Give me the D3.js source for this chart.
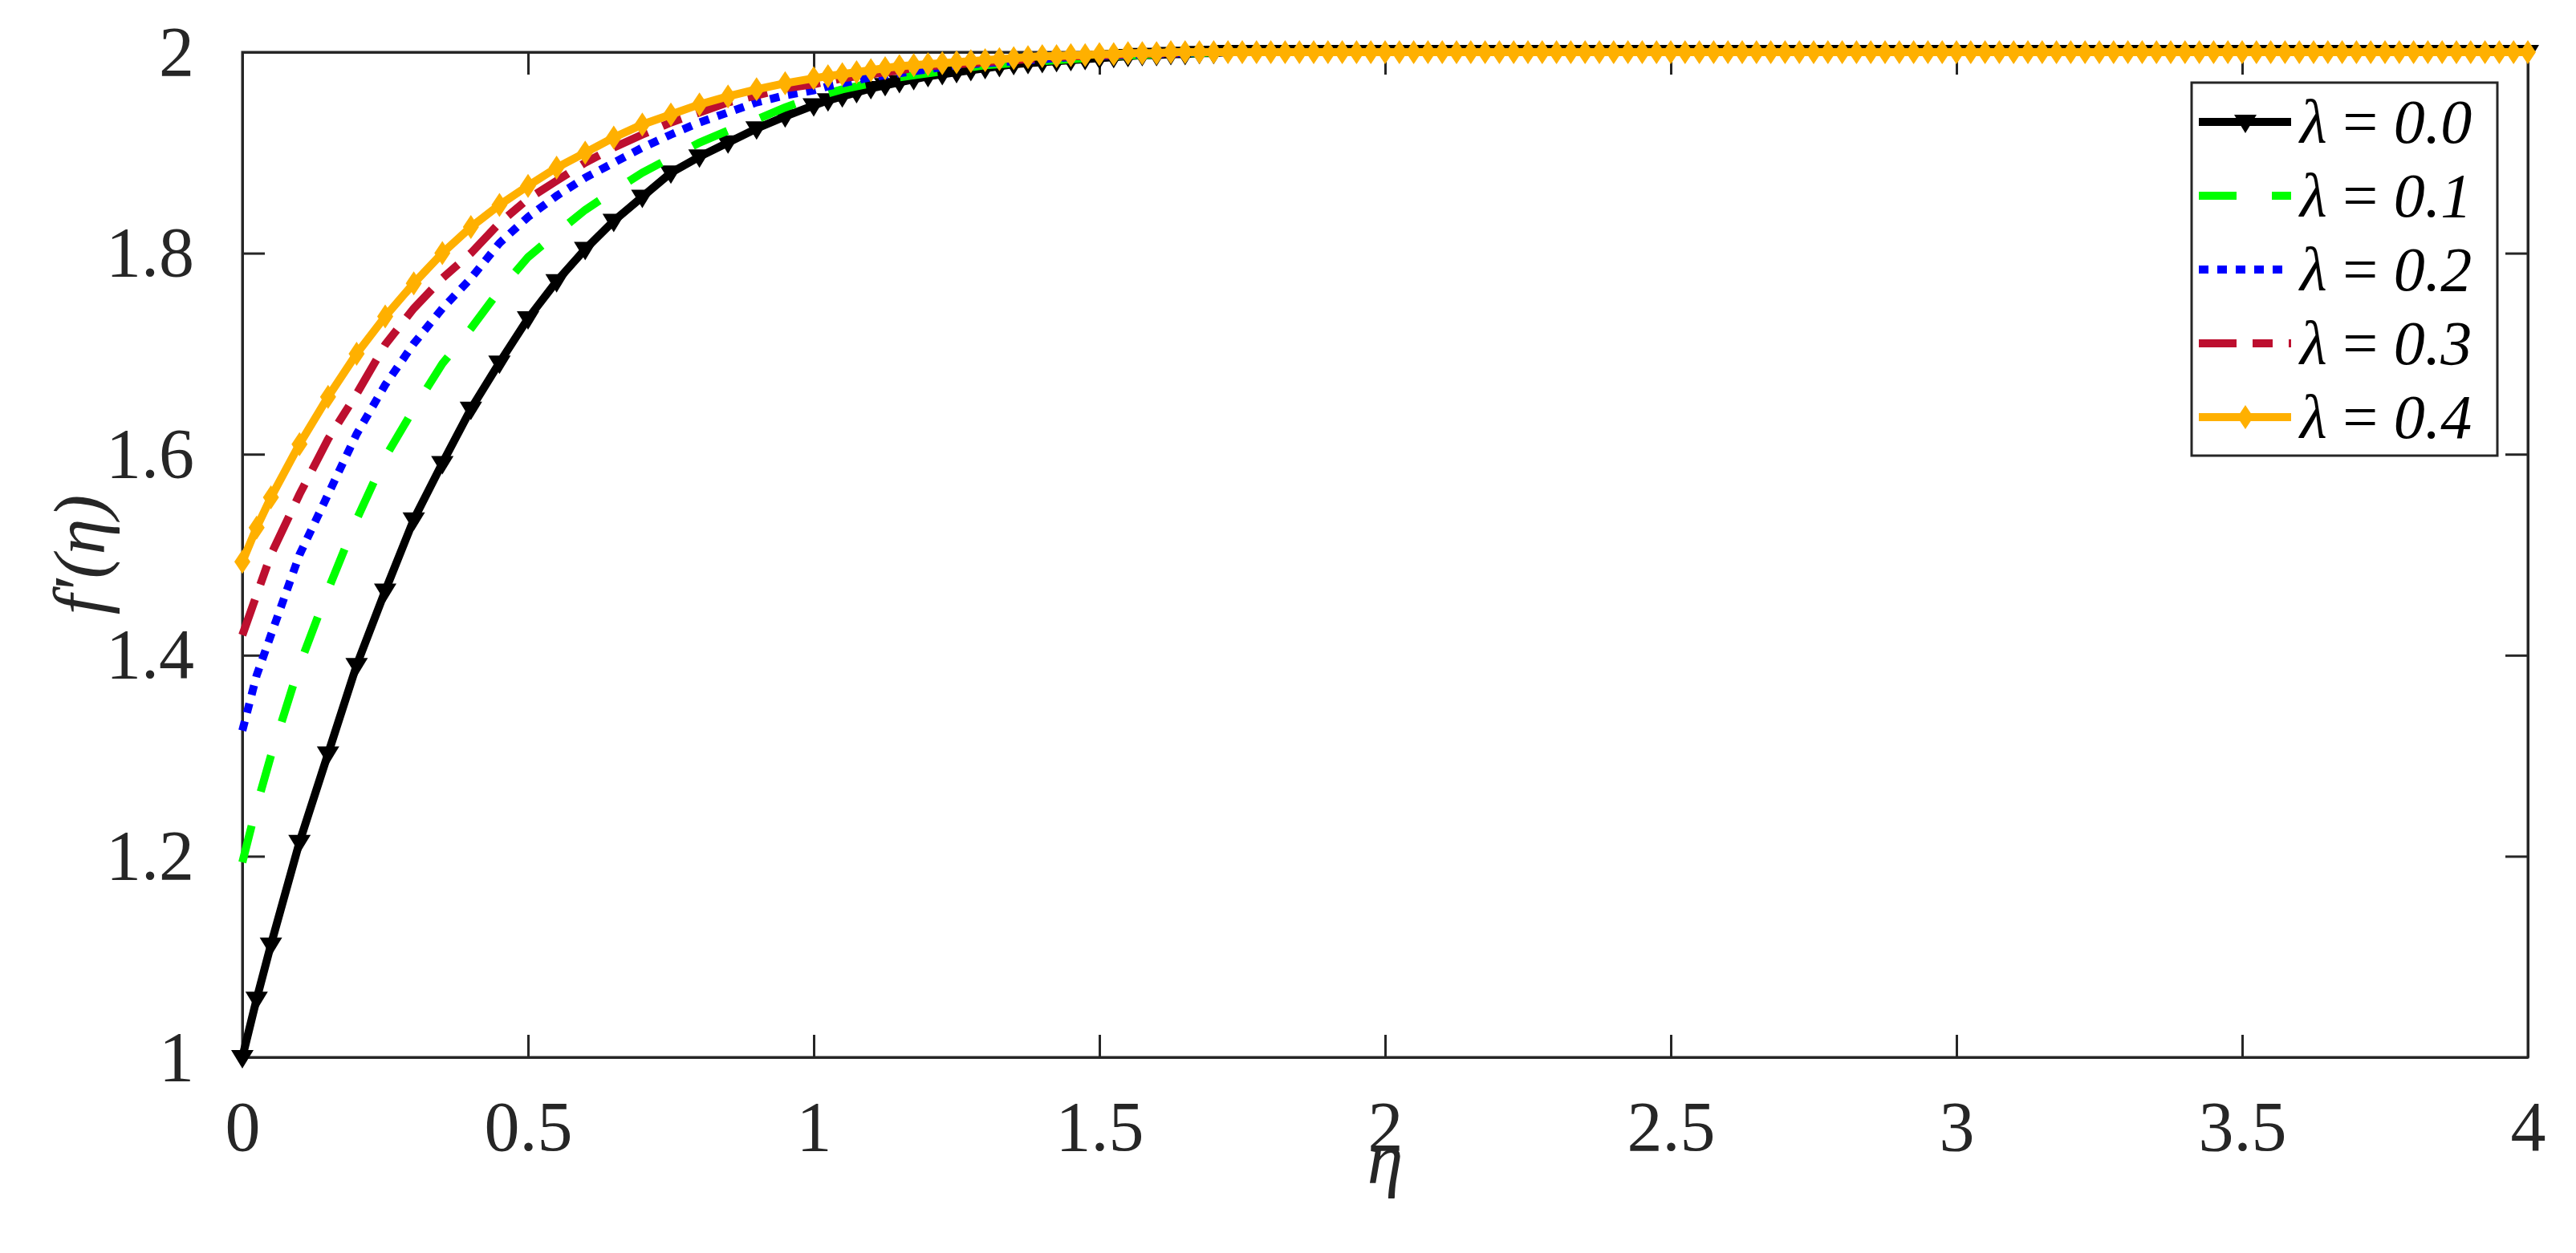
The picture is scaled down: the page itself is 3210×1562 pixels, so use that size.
<!DOCTYPE html>
<html>
<head>
<meta charset="utf-8">
<script src="https://cdn.jsdelivr.net/npm/d3@7"></script>
<style>
  body { margin: 0; background: #fff; }
  text { font-family: "Liberation Serif", "DejaVu Serif", serif; }
</style>
</head>
<body>
<svg id="chart" width="3210" height="1562"></svg>
<script>
// eta mesh: fine near 0, 0.025 steps after 1
const etaHead = [0, 0.025, 0.05, 0.1, 0.15, 0.2, 0.25, 0.3, 0.35, 0.4, 0.45, 0.5, 0.55, 0.6, 0.65, 0.7, 0.75, 0.8, 0.85, 0.9, 0.95, 1.0,
  1.025, 1.05, 1.075, 1.1, 1.125, 1.15, 1.175, 1.2, 1.225, 1.25, 1.275, 1.3, 1.325, 1.35, 1.375, 1.4, 1.425, 1.45, 1.475, 1.5,
  1.525, 1.55, 1.575, 1.6, 1.625, 1.65, 1.675, 1.7];
const etaTail = d3.range(1.725, 4.0001, 0.025);
const eta = etaHead.concat(etaTail);
const plateau = etaTail.map(() => 2.0); // all curves sit on f' = 2 there

const lam00 = [1.000, 1.058, 1.112, 1.214, 1.302, 1.390, 1.464, 1.535, 1.591, 1.645, 1.691, 1.735, 1.772, 1.804, 1.832, 1.856, 1.880, 1.896, 1.910, 1.924, 1.936, 1.947,
  1.952, 1.956, 1.960, 1.964, 1.967, 1.970, 1.973, 1.976, 1.978, 1.980, 1.982, 1.984, 1.986, 1.988, 1.989, 1.990, 1.991, 1.992, 1.993, 1.994,
  1.995, 1.996, 1.997, 1.997, 1.998, 1.998, 1.999, 1.999].concat(plateau);
const lam01 = [1.194, 1.250, 1.300, 1.390, 1.465, 1.535, 1.597, 1.645, 1.690, 1.725, 1.763, 1.796, 1.820, 1.843, 1.862, 1.880, 1.895, 1.910, 1.922, 1.933, 1.945, 1.955,
  1.959, 1.963, 1.966, 1.969, 1.972, 1.975, 1.977, 1.979, 1.981, 1.983, 1.985, 1.987, 1.988, 1.989, 1.990, 1.991, 1.992, 1.993, 1.994, 1.995,
  1.996, 1.997, 1.997, 1.998, 1.998, 1.999, 1.999, 2.000].concat(plateau);
const lam02 = [1.325, 1.380, 1.420, 1.500, 1.560, 1.620, 1.669, 1.710, 1.745, 1.775, 1.810, 1.836, 1.857, 1.875, 1.890, 1.905, 1.918, 1.930, 1.940, 1.950, 1.957, 1.962,
  1.966, 1.969, 1.972, 1.975, 1.977, 1.979, 1.981, 1.983, 1.985, 1.987, 1.988, 1.989, 1.990, 1.991, 1.992, 1.993, 1.994, 1.995, 1.996, 1.996,
  1.997, 1.997, 1.998, 1.998, 1.999, 1.999, 2.000, 2.000].concat(plateau);
const lam03 = [1.420, 1.460, 1.500, 1.560, 1.615, 1.660, 1.709, 1.745, 1.775, 1.800, 1.830, 1.854, 1.872, 1.890, 1.905, 1.918, 1.930, 1.940, 1.950, 1.957, 1.964, 1.968,
  1.971, 1.974, 1.976, 1.978, 1.980, 1.982, 1.984, 1.986, 1.987, 1.988, 1.989, 1.990, 1.991, 1.992, 1.993, 1.994, 1.995, 1.996, 1.996, 1.997,
  1.997, 1.998, 1.998, 1.999, 1.999, 1.999, 2.000, 2.000].concat(plateau);
const lam04 = [1.493, 1.527, 1.557, 1.610, 1.657, 1.700, 1.737, 1.770, 1.800, 1.826, 1.848, 1.867, 1.885, 1.900, 1.915, 1.928, 1.938, 1.948, 1.956, 1.963, 1.969, 1.974,
  1.976, 1.978, 1.980, 1.982, 1.984, 1.986, 1.987, 1.988, 1.989, 1.990, 1.991, 1.992, 1.993, 1.994, 1.995, 1.996, 1.996, 1.997, 1.997, 1.998,
  1.998, 1.999, 1.999, 1.999, 2.000, 2.000, 2.000, 2.000].concat(plateau);

const labels = ['0.0', '0.1', '0.2', '0.3', '0.4'];
const xTicks = [0, 0.5, 1, 1.5, 2, 2.5, 3, 3.5, 4];
const yTicks = [1, 1.2, 1.4, 1.6, 1.8, 2];

const series = [
  { y: lam00, color: '#000000', dash: null, marker: 'tri' },
  { y: lam01, color: '#00ff00', dash: '47,44', marker: null },
  { y: lam02, color: '#0000ff', dash: '12,11', marker: null },
  { y: lam03, color: '#bd0f2f', dash: '47,20,25,20', marker: null },
  { y: lam04, color: '#ffb000', dash: null, marker: 'dia' }
];

const pLeft = 302, pRight = 3150, pTop = 65, pBottom = 1318;
const svg = d3.select('#chart');

const x = d3.scaleLinear().domain([0, 4]).range([pLeft, pRight]);
const y = d3.scaleLinear().domain([1, 2]).range([pBottom, pTop]);

// axes with inward ticks, mirrored on top/right
const tl = 28;
svg.append('g').attr('transform', 'translate(0,' + pBottom + ')')
  .call(d3.axisBottom(x).tickValues(xTicks).tickSizeInner(-tl).tickSizeOuter(0).tickPadding(tl + 26).tickFormat(d3.format('')));
svg.append('g').attr('transform', 'translate(0,' + pTop + ')')
  .call(d3.axisTop(x).tickValues(xTicks).tickSizeInner(-tl).tickSizeOuter(0).tickFormat(''));
svg.append('g').attr('transform', 'translate(' + pLeft + ',0)')
  .call(d3.axisLeft(y).tickValues(yTicks).tickSizeInner(-tl).tickSizeOuter(0).tickPadding(tl + 32).tickFormat(d3.format('')));
svg.append('g').attr('transform', 'translate(' + pRight + ',0)')
  .call(d3.axisRight(y).tickValues(yTicks).tickSizeInner(-tl).tickSizeOuter(0).tickFormat(''));
svg.selectAll('.domain, .tick line').attr('stroke', '#262626').attr('stroke-width', 3);
svg.selectAll('.tick text').attr('font-size', 88).attr('fill', '#262626')
  .attr('font-family', '"Liberation Serif", serif');

svg.append('rect').attr('x', pLeft).attr('y', pTop).attr('width', pRight - pLeft).attr('height', pBottom - pTop)
  .attr('fill', 'none').attr('stroke', '#262626').attr('stroke-width', 3);

const line = d3.line().x(d => x(d[0])).y(d => y(d[1]));
const tri = 'M-14,-9L14,-9L0,14Z';
const dia = 'M0,-15L10,0L0,15L-10,0Z';

series.forEach(s => {
  const pts = eta.map((e, i) => [e, s.y[i]]);
  svg.append('path').attr('d', line(pts)).attr('fill', 'none')
    .attr('stroke', s.color).attr('stroke-width', 10)
    .attr('stroke-dasharray', s.dash);
  if (s.marker) {
    svg.append('g').selectAll('path').data(pts).enter().append('path')
      .attr('d', s.marker === 'tri' ? tri : dia)
      .attr('transform', d => 'translate(' + x(d[0]) + ',' + y(d[1]) + ')')
      .attr('fill', s.color);
  }
});

// axis labels
svg.append('text').attr('x', (pLeft + pRight) / 2).attr('y', 1475).attr('text-anchor', 'middle')
  .attr('font-size', 90).attr('font-style', 'italic').attr('fill', '#262626').text('η');
svg.append('text').attr('transform', 'translate(130,' + ((pTop + pBottom) / 2) + ') rotate(-90)')
  .attr('text-anchor', 'middle').attr('font-size', 90).attr('font-style', 'italic').attr('fill', '#262626')
  .text('f′(η)');

// legend
const lg = svg.append('g');
lg.append('rect').attr('x', 2731).attr('y', 103).attr('width', 381).attr('height', 465)
  .attr('fill', '#fff').attr('stroke', '#262626').attr('stroke-width', 3);
series.forEach((s, i) => {
  const ry = 152 + i * 92;
  lg.append('line').attr('x1', 2740).attr('x2', 2855).attr('y1', ry).attr('y2', ry)
    .attr('stroke', s.color).attr('stroke-width', 10).attr('stroke-dasharray', s.dash);
  if (s.marker) {
    lg.append('path').attr('d', s.marker === 'tri' ? tri : dia)
      .attr('transform', 'translate(2798,' + ry + ')').attr('fill', s.color);
  }
  const t = lg.append('text').attr('x', 2866).attr('y', ry + 26).attr('font-size', 78).attr('fill', '#000');
  t.append('tspan').attr('font-style', 'italic').text('λ');
  t.append('tspan').text(' = ');
  t.append('tspan').attr('font-style', 'italic').text(labels[i]);
});
</script>
</body>
</html>
